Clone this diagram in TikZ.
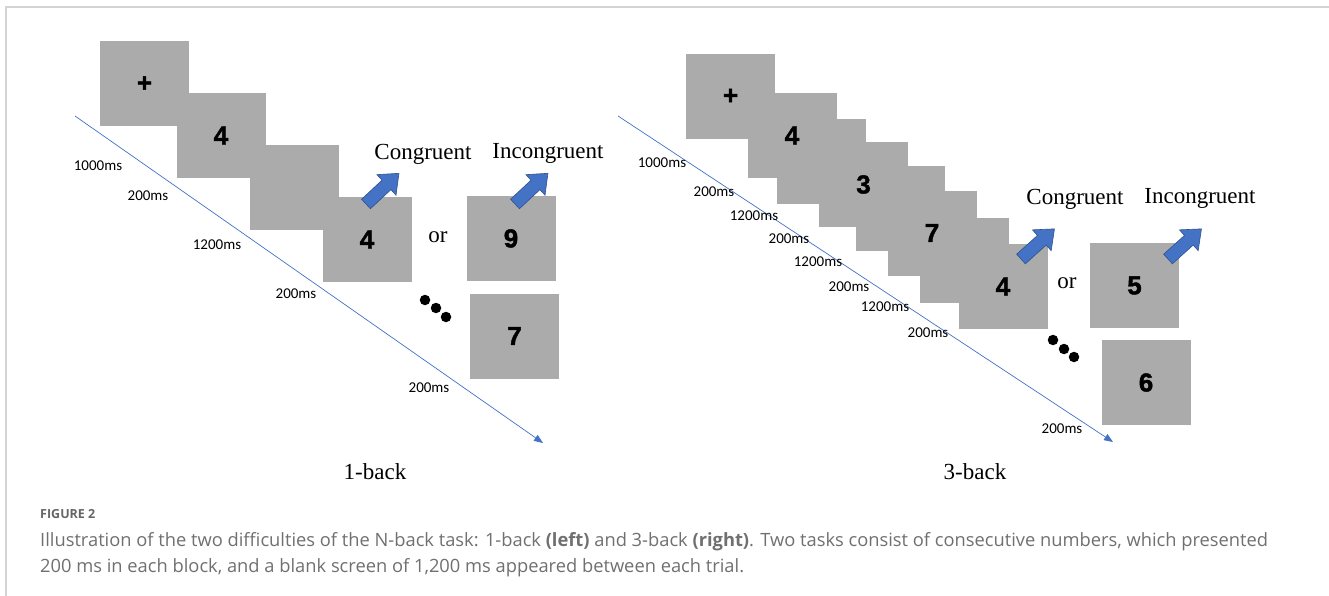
\documentclass[tikz,border=0pt]{standalone}
\usepackage{fontspec}
\setmainfont{Liberation Serif}
\newfontfamily\lblfont{Carlito}
\newfontfamily\digfont[BoldFeatures={FakeBold=1.6}]{Liberation Sans}
\newfontfamily\capfont{Open Sans}
\usetikzlibrary{arrows.meta}
\definecolor{boxgray}{HTML}{ABABAB}
\definecolor{arrowblue}{HTML}{4472C4}
\definecolor{arrowedge}{HTML}{2F528F}
\definecolor{linegray}{HTML}{D4D4D4}
\definecolor{captext}{HTML}{707070}
\definecolor{caphead}{HTML}{666666}
\tikzset{
  stim/.style={fill=boxgray, minimum width=89pt, minimum height=85pt, inner sep=0pt},
  digit/.style={inner sep=0pt, font=\digfont\bfseries\fontsize{26}{26}\selectfont},
  tlabel/.style={font=\lblfont\fontsize{15}{15}\selectfont, inner sep=0pt},
  serif/.style={font=\fontsize{23}{23}\selectfont, inner sep=0pt},
  timeline/.style={draw=arrowblue, line width=0.7pt, -{Triangle[length=9pt,width=7pt,fill=arrowblue]}},
  blackdot/.style={circle, fill=black, minimum size=10.5pt, inner sep=0pt},
  captxt/.style={anchor=base west, inner sep=0pt, text=captext},
  pics/resparrow/.style={code={
    \draw[fill=arrowblue, draw=arrowedge, line width=0.6pt]
      (0,-6.5)--(28,-6.5)--(28,-14)--(45,0)--(28,14)--(28,6.5)--(0,6.5)--cycle;}}
}
\begin{document}
\begin{tikzpicture}[x=1pt,y=-1pt]
\useasboundingbox (0,0) rectangle (1329,596);
\fill[white] (0,0) rectangle (1329,596);
\draw[linegray, line width=1.5pt] (6,597) -- (6,7) -- (1330,7);

% ---------------- left panel: 1-back ----------------
\node[stim] (a1) at (144.5,84) {};
\node[stim] (a2) at (221,135.5) {};
\node[stim] (a3) at (294,187.5) {};
\node[stim] (a4) at (367,239.5) {};
\node[stim] (a9) at (511,238.5) {};
\node[stim] (a7) at (514.5,336) {};
\node[digit] (a1t) at (a1) {+};
\node[digit] (a2t) at (a2) {4};
\node[digit] (a4t) at (a4) {4};
\node[digit] (a9t) at (a9) {9};
\node[digit] (a7t) at (a7) {7};

\coordinate (L0) at (75,116);
\coordinate (L1) at (543,443);
\draw[timeline] (L0) -- (L1);

\node[tlabel] (lt1) at (98,166) {1000ms};
\node[tlabel] (lt2) at (148,196) {200ms};
\node[tlabel] (lt3) at (217,245) {1200ms};
\node[tlabel] (lt4) at (296,294) {200ms};
\node[tlabel] (lt5) at (429,388) {200ms};

\pic[rotate=43] at (366,204) {resparrow};
\pic[rotate=43] at (515,204) {resparrow};

\node[serif] (lcong) at (423,154) {Congruent};
\node[serif] (lincong) at (548,153) {Incongruent};
\node[serif] (lor) at (438,237) {or};
\node[blackdot] (ld1) at (425,300) {};
\node[blackdot] (ld2) at (436,308) {};
\node[blackdot] (ld3) at (446,317) {};
\node[serif] (lback) at (375,472) {1-back};

% ---------------- right panel: 3-back ----------------
\node[stim] (b1) at (730.5,96.5) {};
\node[stim] (b2) at (792,135.5) {};
\node[stim] (b3) at (821,161.5) {};
\node[stim] (b4) at (863.5,184.5) {};
\node[stim] (b5) at (900,208.5) {};
\node[stim] (b6) at (932,233) {};
\node[stim] (b7) at (964.5,260.5) {};
\node[stim] (b8) at (1003,286.5) {};
\node[stim] (b9) at (1134.5,285.5) {};
\node[stim] (b10) at (1146,382.5) {};
\node[digit] (b1t) at (b1) {+};
\node[digit] (b2t) at (b2) {4};
\node[digit] (b4t) at (b4) {3};
\node[digit] (b6t) at (b6) {7};
\node[digit] (b8t) at (b8) {4};
\node[digit] (b9t) at (b9) {5};
\node[digit] (b10t) at (b10) {6};

\coordinate (R0) at (618,116);
\coordinate (R1) at (1113,442);
\draw[timeline] (R0) -- (R1);

\node[tlabel] (rt1) at (662,163) {1000ms};
\node[tlabel] (rt2) at (714,192) {200ms};
\node[tlabel] (rt3) at (754,216) {1200ms};
\node[tlabel] (rt4) at (789,239) {200ms};
\node[tlabel] (rt5) at (818,262) {1200ms};
\node[tlabel] (rt6) at (849,287) {200ms};
\node[tlabel] (rt7) at (885,307) {1200ms};
\node[tlabel] (rt8) at (928,333) {200ms};
\node[tlabel] (rt9) at (1062,429) {200ms};

\pic[rotate=42] at (1021,259) {resparrow};
\pic[rotate=42] at (1168,259) {resparrow};

\node[serif] (rcong) at (1075,199) {Congruent};
\node[serif] (rincong) at (1200,198) {Incongruent};
\node[serif] (ror) at (1067,283) {or};
\node[blackdot] (rd1) at (1053,340) {};
\node[blackdot] (rd2) at (1064,349) {};
\node[blackdot] (rd3) at (1074,357) {};
\node[serif] (rback) at (975,472) {3-back};

% ---------------- caption ----------------
\node[captxt, text=caphead, font=\capfont\bfseries\fontsize{12.5}{12.5}\selectfont] (fig) at (40,518) {FIGURE 2};
\node[captxt, font=\capfont\fontsize{18.3}{18.3}\selectfont] (cap1) at (40,546.5)
  {Illustration of the two difficulties of the N-back task: 1-back \textbf{(left)} and 3-back \textbf{(right)}. Two tasks consist of consecutive numbers, which presented};
\node[captxt, font=\capfont\fontsize{18.3}{18.3}\selectfont] (cap2) at (40,572.5)
  {200 ms in each block, and a blank screen of 1,200 ms appeared between each trial.};
\end{tikzpicture}
\end{document}
